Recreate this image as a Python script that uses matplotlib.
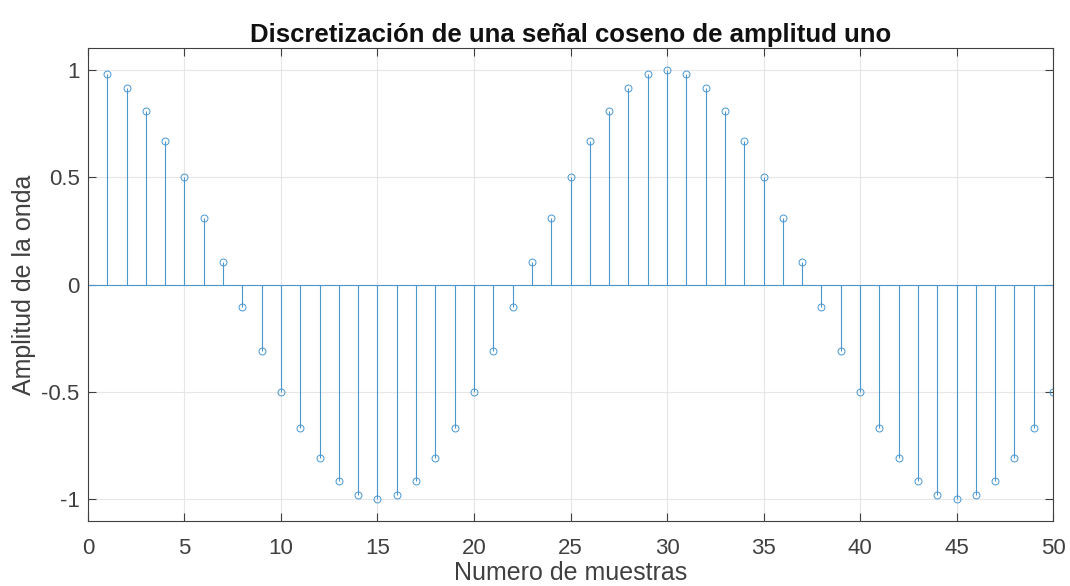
import matplotlib.pyplot as plt
import numpy as np

plt.rcParams['font.family'] = ['Liberation Sans', 'DejaVu Sans']

# samples
n = list(range(1, 51))
amp = [0.978, 0.914, 0.809, 0.669, 0.5, 0.309, 0.105, -0.105, -0.309, -0.5,
       -0.669, -0.809, -0.914, -0.978, -1.0, -0.978, -0.914, -0.809, -0.669, -0.5,
       -0.309, -0.105, 0.105, 0.309, 0.5, 0.669, 0.809, 0.914, 0.978, 1.0,
       0.978, 0.914, 0.809, 0.669, 0.5, 0.309, 0.105, -0.105, -0.309, -0.5,
       -0.669, -0.809, -0.914, -0.978, -1.0, -0.978, -0.914, -0.809, -0.669, -0.5]
xticks = [0, 5, 10, 15, 20, 25, 30, 35, 40, 45, 50]
yticks = [-1, -0.5, 0, 0.5, 1]

col = '#4a97d0'
fig = plt.figure(figsize=(10.7, 5.86), dpi=100)
ax = fig.add_axes([0.0822, 0.111, 0.902, 0.807])

markerline, stemlines, baseline = ax.stem(n, amp, basefmt=' ')
plt.setp(stemlines, color=col, linewidth=0.8)
plt.setp(markerline, marker='o', markersize=5, markerfacecolor='none',
         markeredgecolor=col, markeredgewidth=0.7)
ax.axhline(0, color=col, linewidth=0.8, zorder=1)

ax.set_xlim(0, 50)
ax.set_ylim(-1.1, 1.1)
ax.set_xticks(xticks)
ax.set_yticks(yticks)
ax.set_yticklabels(['-1', '-0.5', '0', '0.5', '1'])
ax.grid(True, color='#e6e6e6', linewidth=0.8)
ax.set_axisbelow(True)
ax.tick_params(direction='in', labelsize=16, colors='#404040', length=6, top=True, right=True)
ax.tick_params(axis='x', pad=12)
ax.tick_params(axis='y', pad=6)
for s in ax.spines.values():
    s.set_color('#404040')
    s.set_linewidth(0.8)

ax.set_title('Discretización de una señal coseno de amplitud uno', fontsize=18.5,
             fontweight='bold', color='#111111', pad=4)
ax.set_xlabel('Numero de muestras', fontsize=18, color='#404040', labelpad=2)
ax.set_ylabel('Amplitud de la onda', fontsize=18, color='#404040', labelpad=4)

fig.savefig('out.png', dpi=100)
